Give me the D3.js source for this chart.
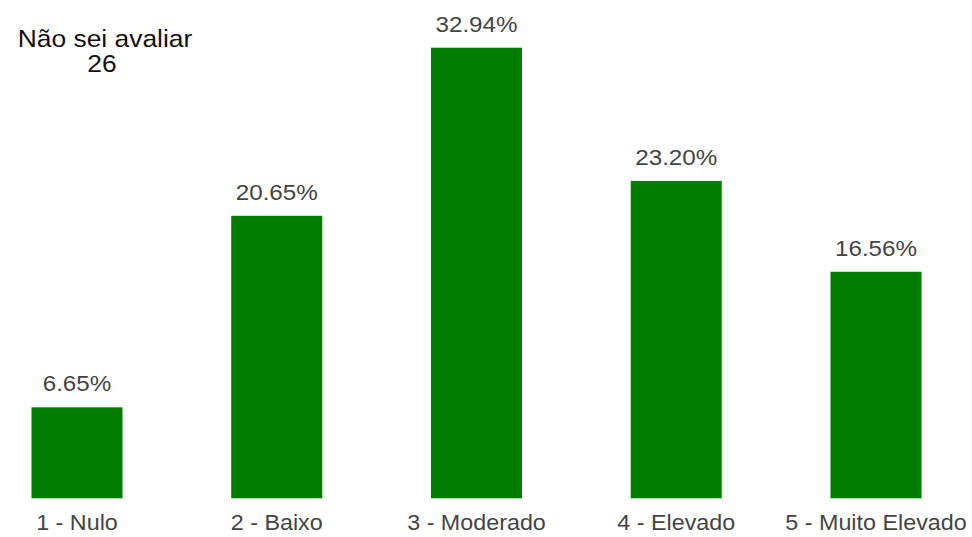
<!DOCTYPE html>
<html>
<head>
<meta charset="utf-8">
<script src="https://cdn.jsdelivr.net/npm/d3@7"></script>
<style>
  html, body { margin: 0; padding: 0; background: #fff; }
  svg { display: block; }
  text { font-family: "Liberation Sans", Arial, sans-serif; }
</style>
</head>
<body>
<svg id="chart" width="972" height="537"></svg>
<script>
// Distribution of answers on a 1–5 scale
const categories = ["1 - Nulo", "2 - Baixo", "3 - Moderado", "4 - Elevado", "5 - Muito Elevado"];
const percentages = [6.65, 20.65, 32.94, 23.20, 16.56];
const noAnswerLabel = "Não sei avaliar";
const noAnswerCount = 26;

const svg = d3.select("#chart");
const baseline = 498.3;

const x = d3.scaleBand()
  .domain(categories)
  .range([31.5, 921.5])
  .paddingInner(0.5445)
  .paddingOuter(0);

const y = d3.scaleLinear()
  .domain([0, 32.94])
  .range([baseline, 47.7]);

const data = categories.map((c, i) => ({ cat: c, value: percentages[i] }));

// bars
svg.append("g")
  .selectAll("rect")
  .data(data)
  .join("rect")
  .attr("x", d => x(d.cat))
  .attr("y", d => y(d.value))
  .attr("width", x.bandwidth())
  .attr("height", d => baseline - y(d.value))
  .attr("fill", "#007d00");

// value labels above bars
svg.append("g")
  .selectAll("text")
  .data(data)
  .join("text")
  .attr("transform", d => `translate(${x(d.cat) + x.bandwidth() / 2},${y(d.value) - 16}) scale(1.1,1)`)
  .attr("text-anchor", "middle")
  .attr("font-size", 22)
  .attr("fill", "#444")
  .text(d => d.value.toFixed(2) + "%");

// category axis labels
const xAxis = d3.axisBottom(x).tickSize(0).tickPadding(0);
const axisG = svg.append("g")
  .attr("transform", `translate(0,${baseline})`)
  .call(xAxis);
axisG.select(".domain").remove();
axisG.selectAll(".tick text")
  .attr("font-size", 22)
  .attr("font-family", "'Liberation Sans', Arial, sans-serif")
  .attr("fill", "#444")
  .attr("dy", null)
  .attr("y", 0)
  .attr("transform", "translate(0,31.5) scale(1.06,1)");

// "don't know" note
const note = svg.append("g").attr("transform", "translate(105,0)");
note.append("text")
  .attr("transform", "translate(0,47) scale(1.1,1)")
  .attr("text-anchor", "middle")
  .attr("font-size", 24)
  .attr("fill", "#111")
  .text(noAnswerLabel);
note.append("text")
  .attr("transform", "translate(-3,72) scale(1.1,1)")
  .attr("text-anchor", "middle")
  .attr("font-size", 24)
  .attr("fill", "#111")
  .text(noAnswerCount);
</script>
</body>
</html>
